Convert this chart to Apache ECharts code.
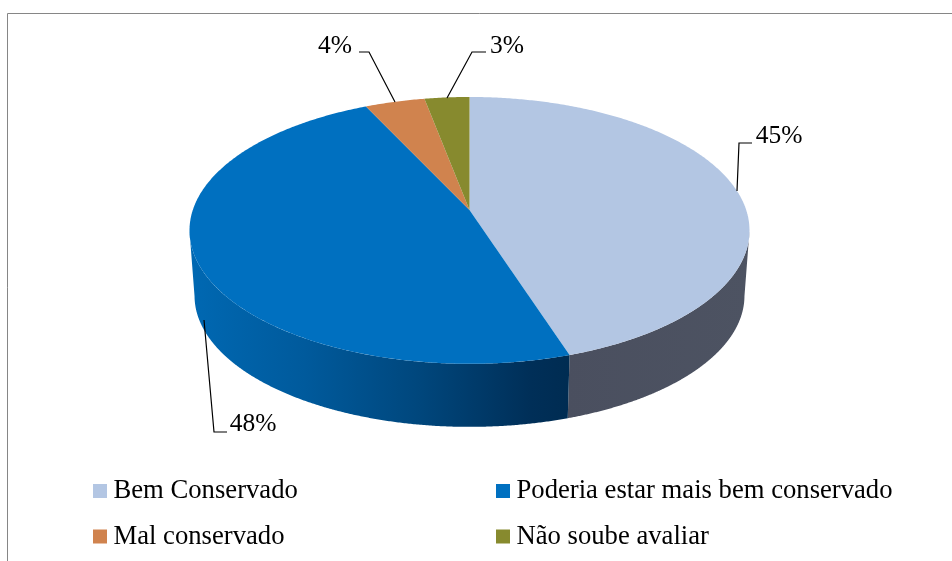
<!DOCTYPE html>
<html><head><meta charset="utf-8">
<style>html,body{margin:0;padding:0;background:#fff}#c{width:952px;height:561px}</style>
<script src="https://cdn.jsdelivr.net/npm/echarts@6/dist/echarts.min.js"></script>
</head><body><div id="c"></div>
<script>
const categories = ['Bem Conservado','Poderia estar mais bem conservado','Mal conservado','Não soube avaliar'];
const values = [45,48,4,3];

const FONT = '"Liberation Serif","Times New Roman",serif';
const topColors = ['#b3c6e3','#0070c0','#d0834e','#878a2e'];
const sideFills = [
  {type:'linear',x:566,y:0,x2:750,y2:0,global:true,colorStops:[{offset:0,color:'#4a4f5f'},{offset:1,color:'#4d5362'}]},
  {type:'linear',x:192,y:0,x2:568,y2:0,global:true,colorStops:[{offset:0,color:'#0068b2'},{offset:.3,color:'#005a9c'},{offset:.6,color:'#00477d'},{offset:.9,color:'#002f58'},{offset:1,color:'#002c52'}]},
  '#a0623a','#65671f'
];
// label text anchor and leader line, per slice
const labelStyle = [
  {x:779,y:136.5,leader:[[737,191],[739,143],[752,143]]},
  {x:253,y:424.5,leader:[[204,320],[214,432],[227,432]]},
  {x:335,y:46.5,leader:[[395,102],[369,52],[359,52]]},
  {x:507,y:46.5,leader:[[447,98],[472,52],[486,52]]}
];

// Projection of the tilted disc (perspective: the near edge is larger)
const CX=469.5, CY=210, A=276.7, B=130.3, K=-0.153;
const SCALE=0.982, BASE=275.8;
function topPt(t){const u=Math.sin(t),v=-Math.cos(t),w=1+K*v;return [CX+A*u/w,CY+B*v/w];}
function lowPt(t){const p=topPt(t);return [CX+SCALE*(p[0]-CX),BASE+SCALE*(p[1]-CY)];}
const total=values.reduce((a,b)=>a+b,0);
const RAD=Math.PI/180, VIS0=99*RAD, VIS1=261*RAD;

function renderSlice(params,api){
  const i=params.seriesIndex, v=api.value(0);
  let before=0; for(let k=0;k<i;k++) before+=values[k];
  const t0=before/total*2*Math.PI, t1=(before+v)/total*2*Math.PI;
  const pts=[]; const N=Math.max(8,Math.ceil((t1-t0)/(0.5*RAD)));
  for(let n=0;n<=N;n++){pts.push(topPt(t0+(t1-t0)*n/N));}
  pts.push([CX,CY]);
  const children=[];
  const s0=Math.max(t0,VIS0), s1=Math.min(t1,VIS1);
  if(s1>s0){
    const a=[],b=[];
    for(let n=0;n<=N;n++){const t=s0+(s1-s0)*n/N;a.push(topPt(t));b.unshift(lowPt(t));}
    children.push({type:'polygon',z2:1,shape:{points:a.concat(b)},style:{fill:sideFills[i]}});
  }
  children.push({type:'polygon',z2:2,shape:{points:pts},style:{fill:topColors[i]}});
  const L=labelStyle[i];
  children.push({type:'polyline',z2:3,shape:{points:L.leader},style:{fill:null,stroke:'#000',lineWidth:1.2}});
  children.push({type:'text',z2:4,style:{x:L.x,y:L.y,text:v+'%',fill:'#000',font:'25.5px '+FONT,textAlign:'center',textVerticalAlign:'middle'}});
  return {type:'group',children};
}

const chart=echarts.init(document.getElementById('c'),null,{renderer:'canvas'});
const legendBase={orient:'vertical',icon:'rect',itemWidth:14,itemHeight:14,itemGap:20,
  textStyle:{fontFamily:FONT,fontSize:26.67,lineHeight:25,color:'#000',padding:[0,0,0,1.5]},selectedMode:false,padding:0};
chart.setOption({
  animation:false,
  backgroundColor:'#fff',
  legend:[
    Object.assign({},legendBase,{left:93,top:478,itemGap:20,data:[categories[0],categories[2]]}),
    Object.assign({},legendBase,{left:496,top:478,itemGap:20,data:[categories[1],categories[3]]})
  ].map(l=>Object.assign(l,{itemGap:18.5,top:477.5})),
  graphic:[{type:'polyline',z:-1,shape:{points:[[7.5,561],[7.5,13.5],[952,13.5]]},style:{fill:null,stroke:'#868686',lineWidth:1}}],
  series:categories.map((c,i)=>({
    type:'custom',name:c,coordinateSystem:'none',
    itemStyle:{color:topColors[i]},
    renderItem:renderSlice,
    data:[[values[i]]],
    silent:true
  }))
});
</script></body></html>
